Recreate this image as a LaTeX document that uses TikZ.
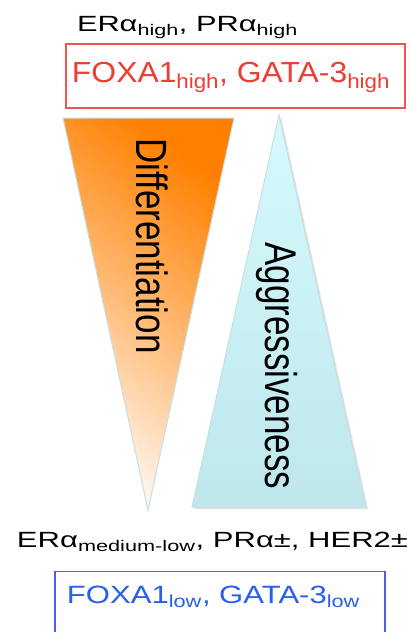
\documentclass[tikz,border=0pt]{standalone}
\usepackage{fontspec}
\setmainfont{Liberation Sans}
\usepackage{graphicx}
\usetikzlibrary{positioning,calc}

\definecolor{deeporange}{RGB}{255,128,0}
\definecolor{paleorange}{RGB}{255,246,238}
\definecolor{boxred}{RGB}{240,85,85}
\definecolor{textred}{RGB}{236,62,50}
\definecolor{boxblue}{RGB}{75,95,240}
\definecolor{textblue}{RGB}{40,95,235}
\definecolor{topcyan}{RGB}{214,250,252}
\definecolor{basecyan}{RGB}{190,231,236}
\definecolor{rimcyan}{RGB}{196,224,228}

\tikzstyle{marker}=[anchor=base, inner sep=0pt, font=\fontsize{22}{26}\selectfont]
\tikzstyle{gene}=[anchor=base, inner sep=0pt, font=\fontsize{29}{34}\selectfont]
\tikzstyle{genebox}=[draw, line width=1.3pt, inner sep=0pt]
\tikzstyle{wedgelabel}=[rotate=-90, anchor=base west, inner sep=0pt, font=\fontsize{35}{40}\selectfont]

\begin{document}
\begin{tikzpicture}[x=1pt, y=-1pt]

    \clip (0,0) rectangle (411,632);
    \fill[white] (0,0) rectangle (411,632);

    % triangles
    \coordinate (dleft) at (63,118);
    \coordinate (dright) at (234,118);
    \coordinate (dtip) at (148,510);
    \coordinate (atip) at (279,115);
    \coordinate (aleft) at (192,507);
    \coordinate (aright) at (366,507);

    \fill[black!12] ($(aleft)+(2,2)$) -- ($(aright)+(2,2)$) -- ($(atip)+(2,2)$) -- cycle;
    \draw[rimcyan, line width=1pt, top color=topcyan, bottom color=basecyan]
        (atip) -- (aright) -- (aleft) -- cycle;
    \draw[rimcyan, line width=1pt, top color=deeporange, bottom color=paleorange,
          middle color=deeporange!55!white, shading angle=-38]
        (dleft) -- (dright) -- (dtip) -- cycle;

    \node[wedgelabel] (diff) at (136,138) {\scalebox{1}[1.25]{Differentiation}};
    \node[wedgelabel] (aggr) at (265,242) {\scalebox{1}[1.27]{Aggressiveness}};

    % high end
    \node[marker] (erhigh) at (187.5,31)
        {\resizebox{221pt}{\height}{ERα\textsubscript{high}, PRα\textsubscript{high}}};
    \node[genebox, draw=boxred, minimum width=339pt, minimum height=64pt] (highbox) at (235.5,76) {};
    \node[gene, textred] (hightext) at (231,82)
        {\resizebox{318pt}{\height}{FOXA1\textsubscript{high}, GATA-3\textsubscript{high}}};

    % low end
    \node[marker] (erlow) at (212.5,547)
        {\resizebox{391pt}{\height}{ERα\textsubscript{medium-low}, PRα±, HER2±}};
    \node[genebox, draw=boxblue, minimum width=330pt, minimum height=100pt, anchor=north] (lowbox) at (220,571) {};
    \node[gene, textblue, font=\fontsize{25}{30}\selectfont] (lowtext) at (213.5,603)
        {\resizebox{293pt}{\height}{FOXA1\textsubscript{low}, GATA-3\textsubscript{low}}};

\end{tikzpicture}
\end{document}
